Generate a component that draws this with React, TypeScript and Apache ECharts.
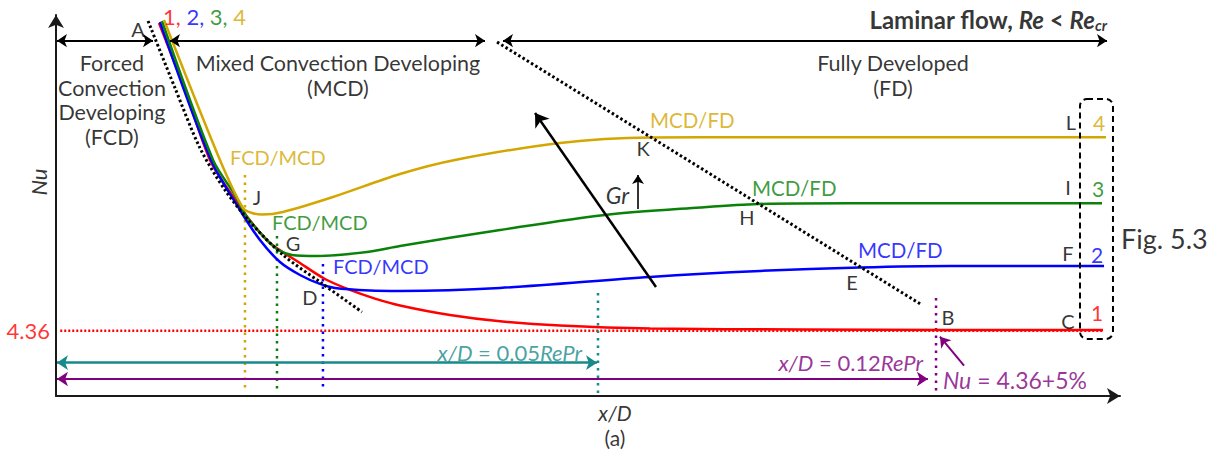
import React, { useEffect, useRef } from "react";
import * as echarts from "echarts";

const C1 = "#ff0000";
const C2 = "#0000ff";
const C3 = "#0a820a";
const C4 = "#d4a600";
const TEAL = "#178a8a";
const PURPLE = "#800080";
const INK = "#000000";
const FONT = "Lato";

// schematic axes: x/D (arbitrary units) and Nu
const X_MAX = 100;
const NU_MAX = 25.5;
const NU_FD = 4.36;

// Curve 1 (red, forced convection only)
const curve1: number[][] = [
  [9.68, 24.97], [12.12, 20.48], [14.47, 15.8], [16.35, 13.65], [18.05, 11.91],
  [20.11, 10.24], [22.93, 8.9], [25.28, 7.83], [27.63, 7.1], [29.98, 6.52], [32.33, 6.06],
  [37.03, 5.42], [41.73, 5.0], [47.37, 4.72], [55.83, 4.52], [69.92, 4.45], [84.02, 4.42], [98.4, 4.42],
];
// Curve 2 (blue)
const curve2: number[][] = [
  [9.77, 25.03], [14.57, 15.8], [17.29, 12.45], [19.17, 10.44], [21.05, 8.97],
  [22.93, 8.1], [24.81, 7.5], [26.22, 7.23], [29.51, 7.06], [32.33, 7.03],
  [41.73, 7.23], [55.83, 7.97], [66.17, 8.37], [75.56, 8.6], [84.02, 8.7], [98.5, 8.7],
];
// Curve 3 (green)
const curve3: number[][] = [
  [9.96, 25.1], [14.76, 15.8], [16.82, 13.45], [17.95, 11.98], [19.83, 10.44],
  [21.05, 9.71], [22.18, 9.44], [24.53, 9.37], [29.23, 9.64], [32.33, 10.04],
  [41.73, 11.11], [51.6, 12.12], [60.53, 12.62], [65.98, 12.85], [74.62, 12.9], [98.31, 12.9],
];
// Curve 4 (yellow)
const curve4: number[][] = [
  [10.15, 25.17], [15.41, 15.8], [17.58, 12.58], [18.42, 12.25], [19.36, 12.15],
  [21.33, 12.32], [26.03, 13.32], [32.33, 14.86], [37.5, 15.8], [47.37, 16.93],
  [55.83, 17.3], [65.23, 17.32], [98.68, 17.32],
];
// FCD asymptote (dotted black) and MCD/FD boundary (dotted black)
const fcdTangent: number[][] = [
  [8.65, 25.1], [11.18, 20.62], [13.53, 16.6], [15.88, 13.79], [18.23, 11.65],
  [21.33, 9.44], [24.81, 7.63], [28.76, 5.62],
];
const fdBoundary: number[][] = [[41.45, 23.69], [81.39, 6.09]];

// vertical dotted markers: FCD/MCD (4,3,2), 0.05RePr, 0.12RePr
const dropX = [17.76, 20.77, 25.09, 50.94, 82.71];
const dropTop = [14.79, 10.71, 8.84, 6.89, 6.56];
const dropBottom = [0.29, 0.47, 0.6, 0.07, 0.27];
const dropColors = [C4, C3, C2, TEAL, PURPLE];

// region arrows along the top
const regionArrowNu = 23.78;
const regionStart = [0.09, 10.71, 42.01];
const regionEnd = [9.12, 40.32, 98.78];

// length arrows along the bottom
const len005 = [0.09, 50.85, 2.23];
const len012 = [0.09, 81.95, 1.14];

// label box around curve numbers
const boxCorners = [96.24, 19.88, 99.34, 3.82];

const it = (c: string, s = 22) => ({ fontStyle: "italic", color: c, fontSize: s, fontFamily: FONT });
const nm = (c: string, s = 22) => ({ color: c, fontSize: s, fontFamily: FONT });

type Ann = {
  v: number[];
  t: string;
  c?: string;
  a?: "left" | "center" | "right";
  s?: number;
  rich?: any;
  lh?: number;
  rot?: number;
  w?: string;
  st?: string;
};

const annotations: Ann[] = [
  { v: [7.71, 24.56], t: "A" },
  {
    v: [10.06, 25.37], t: "{r|1, }{b|2, }{g|3, }{y|4}", a: "left",
    rich: { r: nm(C1, 22), b: nm(C2, 22), g: nm(C3, 22), y: nm(C4, 22) },
  },
  {
    v: [98.78, 25.17], t: "{b|Laminar flow, }{bi|Re}{b| < }{bi|Re}{sub|cr}", a: "right",
    rich: {
      b: { fontWeight: "bold", fontSize: 24, fontFamily: FONT, color: INK },
      bi: { fontWeight: "bold", fontStyle: "italic", fontSize: 24, fontFamily: FONT, color: INK },
      sub: { fontWeight: "bold", fontStyle: "italic", fontSize: 15, fontFamily: FONT, color: INK, padding: [10, 0, 0, 0] },
    },
  },
  { v: [5.26, 19.81], t: "Forced\nConvection\nDeveloping\n(FCD)", lh: 24.5, s: 21.5 },
  { v: [26.5, 21.45], t: "Mixed Convection Developing\n(MCD)", lh: 25, s: 21.5 },
  { v: [78.67, 21.45], t: "Fully Developed\n(FD)", lh: 25, s: 21.5 },
  { v: [16.35, 16.0], t: "FCD/MCD", c: C4, a: "left" },
  { v: [18.89, 13.34], t: "J" },
  { v: [20.3, 11.67], t: "FCD/MCD", c: C3, a: "left" },
  { v: [22.27, 10.22], t: "G" },
  { v: [26.03, 8.7], t: "FCD/MCD", c: C2, a: "left" },
  { v: [23.87, 6.65], t: "D" },
  { v: [55.83, 18.47], t: "MCD/FD", c: C4, a: "left", s: 20.5 },
  { v: [55.17, 16.58], t: "K" },
  { v: [65.41, 13.9], t: "MCD/FD", c: C3, a: "left", s: 20.5 },
  { v: [64.94, 11.96], t: "H" },
  { v: [75.38, 9.77], t: "MCD/FD", c: C2, a: "left", s: 20.5 },
  { v: [74.81, 7.65], t: "E" },
  { v: [83.83, 5.31], t: "B" },
  { v: [95.39, 18.36], t: "L" },
  { v: [98.03, 18.29], t: "4", c: C4, s: 21 },
  { v: [95.11, 14.01], t: "I" },
  { v: [97.93, 13.86], t: "3", c: C3, s: 21 },
  { v: [95.11, 9.57], t: "F" },
  { v: [97.84, 9.5], t: "2", c: C2, s: 21 },
  { v: [95.11, 5.04], t: "C" },
  { v: [97.84, 5.56], t: "1", c: C1, s: 21 },
  { v: [100.09, 10.51], t: "Fig. 5.3", a: "left", s: 27 },
  { v: [-0.56, NU_FD], t: "4.36", c: C1, a: "right", s: 22 },
  { v: [-1.69, 14.32], t: "Nu", rot: 90, st: "italic", s: 22 },
  { v: [52.54, -1.1], t: "x/D", st: "italic", s: 21 },
  { v: [52.54, -2.78], t: "(a)", s: 21 },
  {
    v: [49.44, 2.9], t: "{i|x/D} = 0.05{i|RePr}", c: TEAL, a: "right", s: 22,
    rich: { i: it(TEAL) },
  },
  {
    v: [81.48, 2.21], t: "{i|x/D} = 0.12{i|RePr}", c: PURPLE, a: "right", s: 22,
    rich: { i: it(PURPLE) },
  },
  {
    v: [83.36, 1.07], t: "{i|Nu} = 4.36+5%", c: PURPLE, a: "left", s: 23,
    rich: { i: it(PURPLE, 23) },
  },
  { v: [52.77, 13.45], t: "Gr", st: "italic", s: 23 },
];

function curveSeries(data: number[][], color: string) {
  return {
    type: "line",
    data,
    smooth: 0.3,
    symbol: "none",
    lineStyle: { color, width: 2.5 },
    z: 4,
  };
}

function arrowSeries(segs: number[][][], color: string, symbol: string[], width = 2, size = 10) {
  return {
    type: "lines",
    coordinateSystem: "cartesian2d",
    symbol,
    symbolSize: size,
    lineStyle: { color, width, opacity: 1, curveness: 0 },
    data: segs.map((coords) => ({ coords })),
    z: 5,
  };
}

export default function App() {
  const ref = useRef<HTMLDivElement>(null);
  useEffect(() => {
    document.body.style.margin = "0";
    const chart = echarts.init(ref.current!, undefined, { renderer: "svg" });

    const axisBase = {
      type: "value",
      axisTick: { show: false },
      axisLabel: { show: false },
      splitLine: { show: false },
      axisLine: {
        show: true,
        symbol: ["none", "arrow"],
        symbolSize: [12, 13],
        lineStyle: { color: "#1a1a1a", width: 2 },
      },
    };

    const series: any[] = [
      {
        type: "line",
        data: [[0.4, NU_FD], [98.4, NU_FD]],
        symbol: "none",
        lineStyle: { color: C1, width: 2.5, type: [2, 2] },
        z: 3,
      },
      ...dropX.map((x, i) => ({
        type: "line",
        data: [[x, dropTop[i]], [x, dropBottom[i]]],
        symbol: "none",
        lineStyle: { color: dropColors[i], width: 2.5, type: [2.5, 5] },
        z: 3,
      })),
      {
        type: "line",
        data: fcdTangent,
        smooth: 0.3,
        symbol: "none",
        lineStyle: { color: INK, width: 3, type: [2.5, 2.5] },
        z: 6,
      },
      {
        type: "line",
        data: fdBoundary,
        symbol: "none",
        lineStyle: { color: INK, width: 3, type: [2.5, 2.5] },
        z: 6,
      },
      curveSeries(curve1, C1),
      curveSeries(curve2, C2),
      curveSeries(curve3, C3),
      curveSeries(curve4, C4),
      arrowSeries(
        regionStart.map((s, i) => [[s, regionArrowNu], [regionEnd[i], regionArrowNu]]),
        INK,
        ["arrow", "arrow"]
      ),
      arrowSeries([[[len005[0], len005[2]], [len005[1], len005[2]]]], TEAL, ["arrow", "arrow"], 2.5, 11),
      arrowSeries([[[len012[0], len012[2]], [len012[1], len012[2]]]], PURPLE, ["arrow", "arrow"], 2, 11),
      arrowSeries([[[85.34, 2.03], [83.08, 3.97]]], PURPLE, ["none", "arrow"], 2, 10),
      arrowSeries([[[56.39, 7.3], [45.02, 18.94]]], INK, ["none", "arrow"], 2.5, 13),
      arrowSeries([[[54.7, 12.52], [54.7, 14.79]]], INK, ["none", "arrow"], 1.6, 9),
      {
        type: "custom",
        renderItem: (_p: any, api: any) => {
          const p0 = api.coord([api.value(0), api.value(1)]);
          const p1 = api.coord([api.value(2), api.value(3)]);
          return {
            type: "rect",
            shape: { x: p0[0], y: p0[1], width: p1[0] - p0[0], height: p1[1] - p0[1], r: 7 },
            style: { fill: "none", stroke: INK, lineWidth: 2, lineDash: [6, 4] },
          };
        },
        data: [boxCorners],
        z: 7,
      },
      {
        type: "scatter",
        symbolSize: 0,
        clip: false,
        itemStyle: { color: "transparent" },
        z: 10,
        data: annotations.map((a) => ({
          value: a.v,
          label: {
            show: true,
            position: "inside",
            formatter: a.t,
            color: a.c || INK,
            fontSize: a.s || 20,
            fontFamily: FONT,
            fontStyle: a.st || "normal",
            fontWeight: a.w || "normal",
            align: a.a || "center",
            verticalAlign: "middle",
            lineHeight: a.lh,
            rotate: a.rot || 0,
            rich: a.rich,
          },
        })),
      },
    ];

    chart.setOption({
      animation: false,
      textStyle: { fontFamily: FONT },
      grid: { left: 56, right: 97, top: 15, bottom: 54 },
      xAxis: { ...axisBase, min: 0, max: X_MAX },
      yAxis: { ...axisBase, min: 0, max: NU_MAX },
      series,
    });
    return () => chart.dispose();
  }, []);
  return <div ref={ref} style={{ width: 1217, height: 450 }} />;
}
